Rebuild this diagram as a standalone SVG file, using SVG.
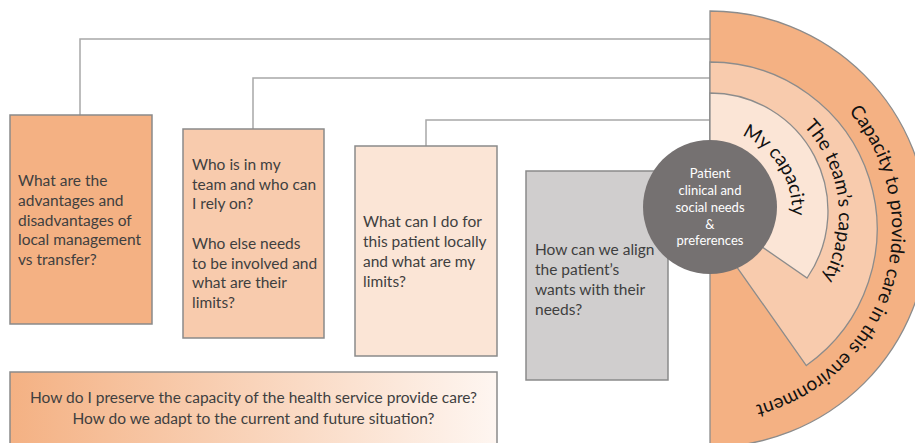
<svg xmlns="http://www.w3.org/2000/svg" width="915" height="443" viewBox="0 0 915 443">
<style>
.box{stroke:#8a8a8a;stroke-width:1.5}
.t{font-family:Lato,"Open Sans","Liberation Sans",sans-serif;font-size:15.5px;fill:#3f3f3f}
.conn{fill:none;stroke:#a8a8a8;stroke-width:1.5}
.arc{stroke:#8c8c8c;stroke-width:1.3}
.ct{font-family:Lato,"Open Sans","Liberation Sans",sans-serif;fill:#111}
.w{font-family:Lato,"Open Sans","Liberation Sans",sans-serif;font-size:13px;fill:#ffffff;text-anchor:middle}
</style>
<defs>
<linearGradient id="g" x1="0" y1="0" x2="1" y2="0">
<stop offset="0" stop-color="#F4B183"/>
<stop offset="1" stop-color="#FEF6F1"/>
</linearGradient>
<path id="p1" d="M679.3,135.0 A82,82 0 0 1 779.5,167.5 A82,82 0 0 1 764.9,271.9"/>
<path id="p2" d="M716.7,86.2 A129,129 0 0 1 838.0,199.3 A129,129 0 0 1 747.7,338.4"/>
<path id="p3" d="M794.3,67.7 A182,182 0 0 1 883.5,284.0 A182,182 0 0 1 685.9,409.4"/>
</defs>
<g id="connectors">
<path class="conn" d="M80,115 V39 H710"/>
<path class="conn" d="M253,129 V78 H710"/>
<path class="conn" d="M426,146 V120 H710"/>
</g>
<g id="box1">
<rect class="box" x="10" y="115" width="142" height="209" fill="#F4B183"/>
<text class="t" x="18" y="186">What are the</text>
<text class="t" x="18" y="206">advantages and</text>
<text class="t" x="18" y="225.5">disadvantages of</text>
<text class="t" x="18" y="245">local management</text>
<text class="t" x="18" y="265">vs transfer?</text>
</g>
<g id="box2">
<rect class="box" x="183" y="129" width="141" height="209" fill="#F8CBAD"/>
<text class="t" x="192" y="170">Who is in my</text>
<text class="t" x="192" y="189.5">team and who can</text>
<text class="t" x="192" y="209">I rely on?</text>
<text class="t" x="192" y="249">Who else needs</text>
<text class="t" x="192" y="268.5">to be involved and</text>
<text class="t" x="192" y="288">what are their</text>
<text class="t" x="192" y="308">limits?</text>
</g>
<g id="box3">
<rect class="box" x="355" y="146" width="142" height="210" fill="#FBE5D6"/>
<text class="t" x="363" y="227">What can I do for</text>
<text class="t" x="363" y="247">this patient locally</text>
<text class="t" x="363" y="267">and what are my</text>
<text class="t" x="363" y="287">limits?</text>
</g>
<g id="box4">
<rect class="box" x="526" y="171" width="142" height="209" fill="#D0CECE"/>
<text class="t" x="535" y="255">How can we align</text>
<text class="t" x="535" y="275">the patient’s</text>
<text class="t" x="535" y="295">wants with their</text>
<text class="t" x="535" y="315">needs?</text>
</g>
<g id="box5">
<rect class="box" x="10" y="372" width="487" height="85" fill="url(#g)"/>
<text class="t" x="253.5" y="403" text-anchor="middle" font-size="15">How do I preserve the capacity of the health service provide care?</text>
<text class="t" x="253.5" y="424" text-anchor="middle" font-size="15">How do we adapt to the current and future situation?</text>
</g>
<g id="capacity-environment">
<path class="arc" d="M710,11 A218,218 0 0 1 710,447 Z" fill="#F4B183"/>
<text class="ct" font-size="19"><textPath href="#p3" startOffset="50%" text-anchor="middle">Capacity to provide care in this environment</textPath></text>
</g>
<g id="capacity-team">
<path class="arc" d="M710,229 L710,62 A167,167 0 0 1 806.3,365.5 Z" fill="#F8CBAD"/>
<text class="ct" font-size="19"><textPath href="#p2" startOffset="50%" text-anchor="middle">The team’s capacity</textPath></text>
</g>
<g id="capacity-my">
<path class="arc" d="M710,211 L710,93 A118,118 0 0 1 807.1,278 Z" fill="#FBE5D6"/>
<text class="ct" font-size="19"><textPath href="#p1" startOffset="50%" text-anchor="middle">My capacity</textPath></text>
</g>
<g id="patient">
<circle cx="710" cy="207" r="67" fill="#757171"/>
<text class="w" x="710" y="178">Patient</text>
<text class="w" x="710" y="195">clinical and</text>
<text class="w" x="710" y="212">social needs</text>
<text class="w" x="710" y="229">&amp;</text>
<text class="w" x="710" y="245">preferences</text>
</g>
</svg>
